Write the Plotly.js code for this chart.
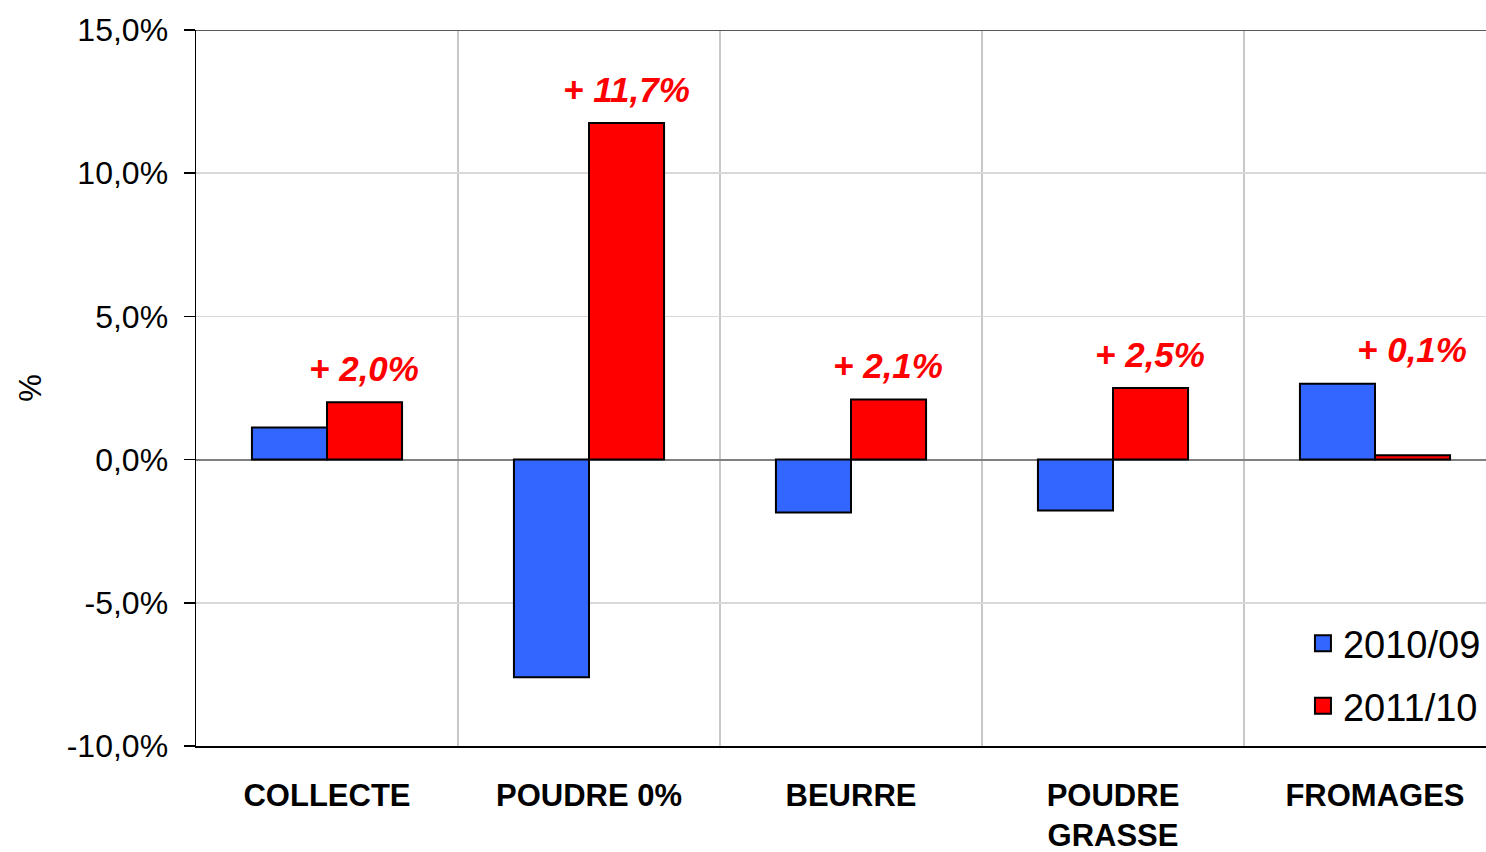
<!DOCTYPE html>
<html>
<head>
<meta charset="utf-8">
<script src="https://cdn.plot.ly/plotly-3.0.1.min.js"></script>
<style>
html, body { margin: 0; padding: 0; overflow: hidden; background: #ffffff; }
#chart { width: 1510px; height: 852px; }
</style>
</head>
<body>
<div id="chart"></div>
<script>
const categories = ['COLLECTE', 'POUDRE 0%', 'BEURRE', 'POUDRE<br>GRASSE', 'FROMAGES'];
const seriesNames = ['2010/09', '2011/10'];
const values2010 = [1.12, -7.6, -1.85, -1.78, 2.65];
const values2011 = [2.0, 11.75, 2.1, 2.5, 0.15];
const labels2011 = ['+ 2,0%', '+ 11,7%', '+ 2,1%', '+ 2,5%', '+ 0,1%'];
const tickValues = [-10, -5, 0, 5, 10, 15];
const tickLabels = ['-10,0%', '-5,0%', '0,0%', '5,0%', '10,0%', '15,0%'];

const BLUE = '#3366FF';
const RED = '#FF0000';
const FONT = 'Liberation Sans, Arial, sans-serif';

const traces = [
  {
    type: 'bar', x: categories, y: values2010, name: seriesNames[0],
    marker: { color: BLUE, line: { color: '#000000', width: 2 } },
    showlegend: false, legendgroup: 'a', hoverinfo: 'skip'
  },
  {
    type: 'bar', x: categories, y: values2011, name: seriesNames[1],
    marker: { color: RED, line: { color: '#000000', width: 2 } },
    showlegend: false, legendgroup: 'b', hoverinfo: 'skip'
  },
  {
    type: 'scatter', mode: 'markers', x: [null], y: [null], name: seriesNames[0],
    legendgroup: 'a',
    marker: { symbol: 'square', size: 20, color: BLUE, line: { color: '#000000', width: 2 } }
  },
  {
    type: 'scatter', mode: 'markers', x: [null], y: [null], name: seriesNames[1],
    legendgroup: 'b',
    marker: { symbol: 'square', size: 20, color: RED, line: { color: '#000000', width: 2 } }
  }
];

const annotations = categories.map((c, i) => ({
  x: c, y: Math.max(values2010[i], values2011[i]),
  xref: 'x', yref: 'y',
  text: '<b><i>' + labels2011[i] + '</i></b>',
  showarrow: false, xanchor: 'center', yanchor: 'middle',
  xshift: 37, yshift: 34,
  font: { family: FONT, size: 35, color: RED }
}));

const layout = {
  width: 1510, height: 852,
  margin: { l: 196, r: 4, t: 30, b: 106, pad: 0 },
  paper_bgcolor: '#ffffff', plot_bgcolor: '#ffffff',
  font: { family: FONT, size: 32, color: '#000000' },
  separators: ',.',
  barmode: 'group', bargap: 0.427, bargroupgap: 0,
  showlegend: true,
  legend: {
    x: 0.845, y: 0.187, xanchor: 'left', yanchor: 'top',
    font: { family: FONT, size: 38, color: '#000000' },
    bgcolor: 'rgba(0,0,0,0)', borderwidth: 0,
    traceorder: 'grouped', tracegroupgap: 10, itemsizing: 'trace'
  },
  xaxis: {
    type: 'category', range: [-0.5, 4.5],
    showline: true, linecolor: '#000000', linewidth: 1.5,
    showgrid: true, gridcolor: '#C8C8C8', gridwidth: 1.5,
    tickson: 'boundaries', ticks: '',
    tickfont: { family: FONT, size: 31, color: '#000000', weight: 'bold' },
    ticklabelstandoff: 21,
    zeroline: false, fixedrange: true
  },
  yaxis: {
    range: [-10, 15], tickvals: tickValues, ticktext: tickLabels,
    showline: true, linecolor: '#000000', linewidth: 1.5,
    ticks: 'outside', ticklen: 11, tickwidth: 1.5, tickcolor: '#000000',
    showgrid: true, gridcolor: '#D9D9D9', gridwidth: 1.5,
    zeroline: true, zerolinecolor: '#808080', zerolinewidth: 2,
    tickfont: { family: FONT, size: 32, color: '#000000' },
    ticklabelstandoff: 9,
    title: { text: '%', font: { family: FONT, size: 31, color: '#000000' }, standoff: 16 },
    fixedrange: true
  },
  shapes: [
    { type: 'line', xref: 'paper', yref: 'y', x0: 0, x1: 1, y0: 15, y1: 15,
      line: { color: '#595959', width: 2 } }
  ],
  annotations: annotations
};

Plotly.newPlot('chart', traces, layout, { displayModeBar: false, staticPlot: true });
</script>
</body>
</html>
